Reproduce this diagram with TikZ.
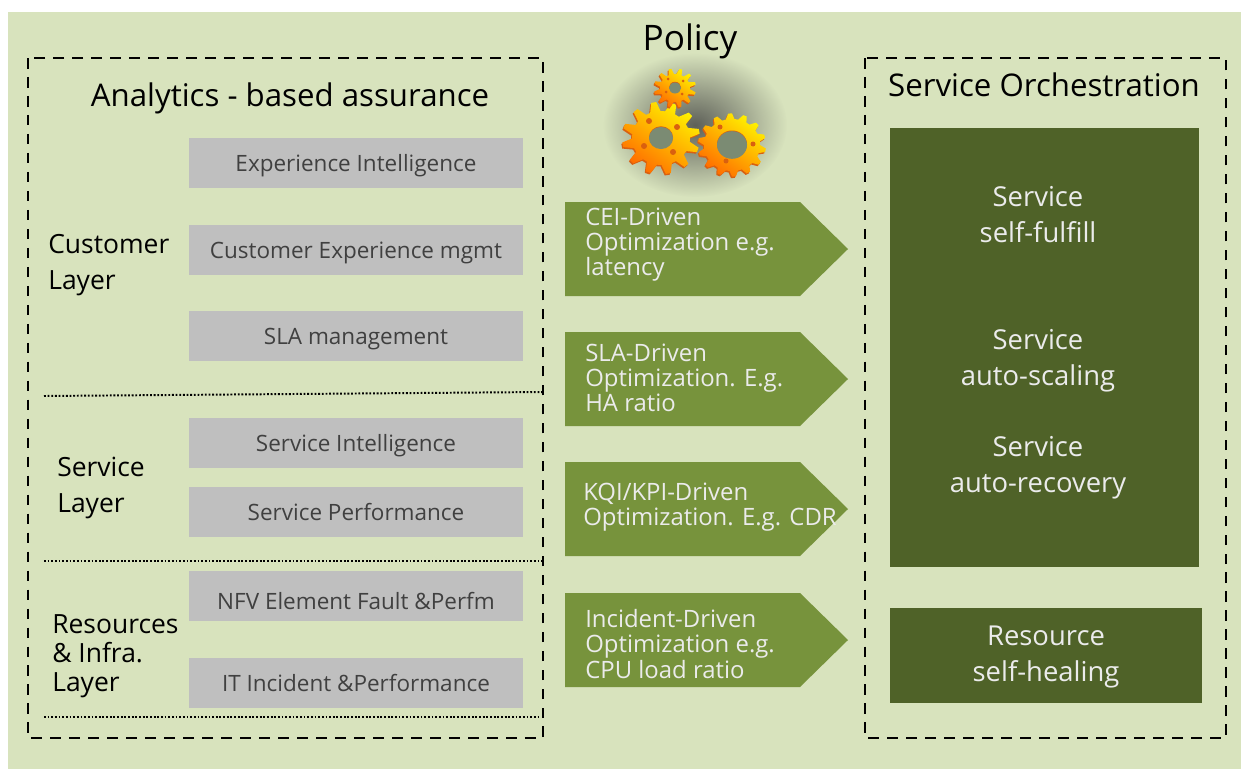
\documentclass[tikz,border=0pt]{standalone}
\usepackage{fontspec}
\setmainfont{Open Sans}
\usetikzlibrary{fadings}
\definecolor{pagegreen}{HTML}{D8E3BD}
\definecolor{boxgray}{HTML}{BFBFBF}
\definecolor{darkgreen}{HTML}{4F6228}
\definecolor{arrowgreen}{HTML}{77933C}
\definecolor{holegray}{HTML}{7B8B73}
\definecolor{gearedge}{HTML}{D9600F}
\newcommand{\fs}[1]{\fontsize{#1}{#1}\selectfont}
\tikzfading[name=gearglow, inner color=transparent!20, outer color=transparent!100]
\tikzset{
    x=0.025cm, y=-0.025cm,
    title/.style={font=\fs{22.2}, text=black, inner sep=0pt},
    layer/.style={font=\fontsize{18.8}{25.6}\selectfont, text=black, align=left, anchor=west, inner sep=0pt},
    graybox/.style={fill=boxgray, minimum width=8.35cm, minimum height=1.25cm, inner sep=0pt, font=\fs{16}, text=black!75, text height=12pt, text depth=0pt},
    darktext/.style={font=\fontsize{19.5}{25.6}\selectfont, text=white!92!black, align=center, inner sep=0pt},
    arrowtext/.style={font=\fontsize{17}{17.8}\selectfont, text=white!92!black, align=left, anchor=west, inner sep=0pt},
    outline/.style={dash pattern=on 7.5pt off 6pt, line width=1.1pt},
    divider/.style={line width=1.4pt, dash pattern=on 1.3pt off 1.3pt},
}
% outer radius, root radius, teeth, turn
\newcommand{\gearteeth}[4]{
    ({#4}:#2)
    \foreach \i in {1,...,#3} {
        -- ({#4+360*(\i-.75)/#3}:#1) -- ({#4+360*(\i-.5)/#3}:#1) -- ({#4+360*(\i-.3)/#3}:#2) -- ({#4+360*\i/#3}:#2)
    } -- cycle
}
% cx, cy, outer radius, root radius, teeth, turn, hole radius
\newcommand{\gear}[7]{
    \fill[gearedge, shift={(#1-1,#2+1.5)}, yscale=.93] \gearteeth{#3}{#4}{#5}{#6};
    \shade[top color=yellow!90!orange, bottom color=orange!85!red, shading angle=-35, shift={(#1,#2)}, yscale=.93] \gearteeth{#3}{#4}{#5}{#6};
    \fill[gearedge] (#1,#2-.7) ellipse ({#7} and {#7*.92});
    \fill[holegray] (#1,#2) ellipse ({#7} and {#7*.92});
}
\begin{document}
\begin{tikzpicture}
    \useasboundingbox (0, 0) rectangle (1241, 769);
    \fill[pagegreen] (8, 12) rectangle (1241, 769);

    % the two frames
    \draw[outline] (28, 58) rectangle (543, 738);
    \draw[outline] (865, 58) rectangle (1226, 738);
    \draw[divider] (44, 396) -- (543, 392);
    \draw[divider] (44, 561) -- (543, 561);
    \draw[divider] (44, 717) -- (540, 717);

    \node[title, font=\fs{25}] (policy) at (690, 41) {Policy};
    \node[title] (analytics) at (290, 98) {Analytics - based assurance};
    \node[title] (orchestration) at (1044, 85) {Service Orchestration};

    % left column
    \foreach \y/\name/\txt in {163/experience/Experience Intelligence, 250/customer/Customer Experience mgmt,
        336/sla/SLA management, 443/intelligence/Service Intelligence, 512/performance/Service Performance,
        683/incident/IT Incident \&Performance} {
        \node[graybox] (\name) at (356, \y) {\txt};
    }
    \node[graybox, text height=19pt] (nfv) at (356, 596) {NFV Element Fault \&Perfm};
    \node[layer] (customerlayer) at (48, 265) {Customer\\Layer};
    \node[layer] (servicelayer) at (57, 488) {Service\\Layer};
    \node[layer, font=\fontsize{18.8}{20.6}\selectfont] (resourcelayer) at (52, 656) {Resources\\\& Infra.\\Layer};

    % middle arrows
    \foreach \y in {202, 332, 462, 593} {
        \fill[arrowgreen] (565, \y) -- (800, \y) -- (848, \y+47) -- (800, \y+94) -- (565, \y+94) -- cycle;
    }
    \node[arrowtext] (cei) at (585, 245) {CEI-Driven\\Optimization e.g.\\latency};
    \node[arrowtext] (sladriven) at (585, 378) {SLA-Driven\\Optimization. E.g.\\HA ratio};
    \node[arrowtext] (kqi) at (583, 507) {KQI/KPI-Driven\\Optimization. E.g. CDR};
    \node[arrowtext] (incidentdriven) at (585, 644) {Incident-Driven\\Optimization e.g.\\CPU load ratio};

    % right column
    \fill[darkgreen] (890, 128) rectangle (1199, 567);
    \fill[darkgreen] (890, 608) rectangle (1202, 703);
    \node[darktext] (fulfill) at (1038, 215) {Service\\self-fulfill};
    \node[darktext] (scaling) at (1038, 361) {Service\\auto-scaling};
    \node[darktext] (recovery) at (1038, 468) {Service\\auto-recovery};
    \node[darktext] (healing) at (1046, 657) {Resource\\self-healing};

    % gears
    \fill[black!75, path fading=gearglow] (695, 125) ellipse (92 and 72);
    \gear{661}{138}{39}{29}{12}{8}{12}
    \gear{732}{145}{34}{28}{14}{0}{15}
    \gear{675}{88}{21}{15}{12}{5}{6}
    \foreach \bx/\by/\br in {649/121/3, 677/127/3, 673/152/3, 644/146/3, 720/127/2.5, 753/144/2.5, 726/161/2.5,
        668/79/1.5, 683/81/1.5, 682/94/1.5, 666/92/1.5} {
        \fill[gearedge] (\bx, \by) circle (\br);
    }
\end{tikzpicture}
\end{document}
